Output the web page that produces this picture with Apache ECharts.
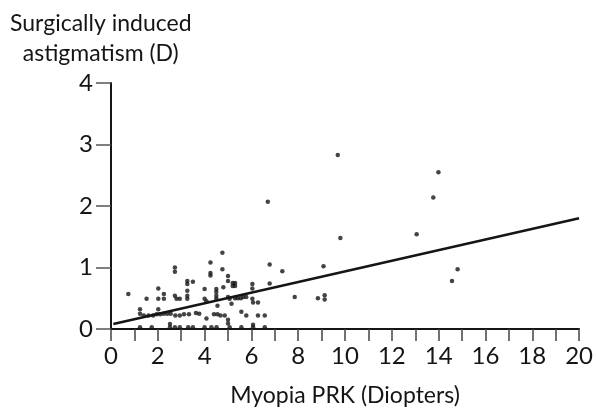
<!DOCTYPE html>
<html>
<head>
<meta charset="utf-8">
<script src="https://cdn.jsdelivr.net/npm/echarts@6/dist/echarts.min.js"></script>
<style>html,body{margin:0;padding:0;background:#fff}#c{width:596px;height:412px}</style>
</head>
<body>
<div id="c"></div>
<script>
const yTitle = 'Surgically induced\nastigmatism (D)';
const xTitle = 'Myopia PRK (Diopters)';
const xTicks = [0, 20, 1];
const yTicks = [0, 4, 1];
const eyes = [
  [0.74,0.57],[1.24,0.32],[1.24,0.25],[1.4,0.22],[1.6,0.22],[1.8,0.22],[1.95,0.24],[2.1,0.24],
  [2.25,0.25],[2.4,0.25],[2.55,0.25],[1.52,0.49],[2.02,0.66],[2.02,0.49],[2.02,0.32],[2.26,0.57],
  [2.26,0.49],[2.73,1.0],[2.73,0.93],[2.73,0.54],[2.8,0.49],[2.94,0.49],[2.75,0.22],[2.94,0.22],
  [3.12,0.24],[3.33,0.24],[3.26,0.78],[3.26,0.73],[3.26,0.62],[3.26,0.54],[3.26,0.49],[3.5,0.77],
  [3.63,0.26],[3.77,0.25],[4.0,0.65],[4.0,0.49],[4.08,0.45],[4.08,0.17],[4.25,1.08],[4.25,0.91],
  [4.25,0.87],[4.4,0.24],[4.55,0.24],[4.68,0.22],[4.5,0.65],[4.5,0.6],[4.5,0.54],[4.5,0.49],
  [4.55,0.38],[4.76,1.24],[4.76,0.97],[4.8,0.68],[4.86,0.22],[5.0,0.86],[5.0,0.78],[5.0,0.52],
  [5.07,0.49],[5.0,0.15],[5.0,0.09],[5.2,0.75],[5.2,0.7],[5.3,0.75],[5.3,0.7],[5.15,0.41],
  [5.3,0.5],[5.42,0.5],[5.55,0.5],[5.65,0.52],[5.78,0.52],[5.57,0.28],[5.78,0.22],[6.04,0.73],
  [6.04,0.66],[6.04,0.49],[6.07,0.43],[6.07,0.07],[6.28,0.43],[6.28,0.22],[6.57,0.22],[6.78,1.05],
  [6.78,0.74],[7.32,0.94],[6.7,2.07],
  [1.24,0.03],[1.74,0.03],[2.52,0.03],[2.73,0.03],[2.94,0.03],[3.3,0.03],[3.5,0.03],[4.0,0.03],
  [4.29,0.03],[4.51,0.03],[5.07,0.03],[5.57,0.03],[6.07,0.03],[6.57,0.03],[2.52,0.08],
  [9.69,2.83],[13.99,2.55],[13.77,2.14],[9.8,1.48],[13.06,1.54],[9.08,1.02],[7.85,0.52],[8.84,0.5],
  [9.13,0.55],[9.13,0.48],[14.81,0.97],[14.57,0.78]
];
const fitLine = [[0.1,0.08],[20,1.8]];

const font = 'Lato, "Open Sans", sans-serif';
const ink = '#151515';
const chart = echarts.init(document.getElementById('c'), null, {renderer:'canvas'});
chart.setOption({
  backgroundColor: '#ffffff',
  animation: false,
  grid: {left: 111, right: 16, top: 83, bottom: 78},
  graphic: [{
    type: 'text', left: 10, top: 9,
    style: {text: yTitle, fill: ink, font: '23px ' + font, textAlign: 'center', lineHeight: 30, x: 105}
  }],
  xAxis: {
    type: 'value', min: xTicks[0], max: xTicks[1], interval: xTicks[2],
    name: xTitle, nameLocation: 'middle', nameGap: 55,
    nameTextStyle: {color: ink, fontSize: 23, fontFamily: font},
    axisLine: {onZero: false, lineStyle: {color: ink, width: 2}},
    axisTick: {length: 12, lineStyle: {color: '#444', width: 1.5}},
    axisLabel: {margin: 15, color: ink, fontSize: 24, fontFamily: font,
      formatter: v => (v % 2 === 0 ? String(v) : '')},
    splitLine: {show: false}
  },
  yAxis: {
    type: 'value', min: yTicks[0], max: yTicks[1], interval: yTicks[2],
    axisLine: {show: true, lineStyle: {color: ink, width: 2}},
    axisTick: {show: true, length: 15, lineStyle: {color: '#555', width: 1.5}},
    axisLabel: {margin: 18, color: ink, fontSize: 24, fontFamily: font},
    splitLine: {show: false}
  },
  series: [
    {type: 'line', data: fitLine, symbol: 'none', lineStyle: {color: ink, width: 2.5}, z: 2},
    {type: 'scatter', data: eyes, symbolSize: 4.5, itemStyle: {color: ink}, z: 3}
  ]
});
</script>
</body>
</html>
